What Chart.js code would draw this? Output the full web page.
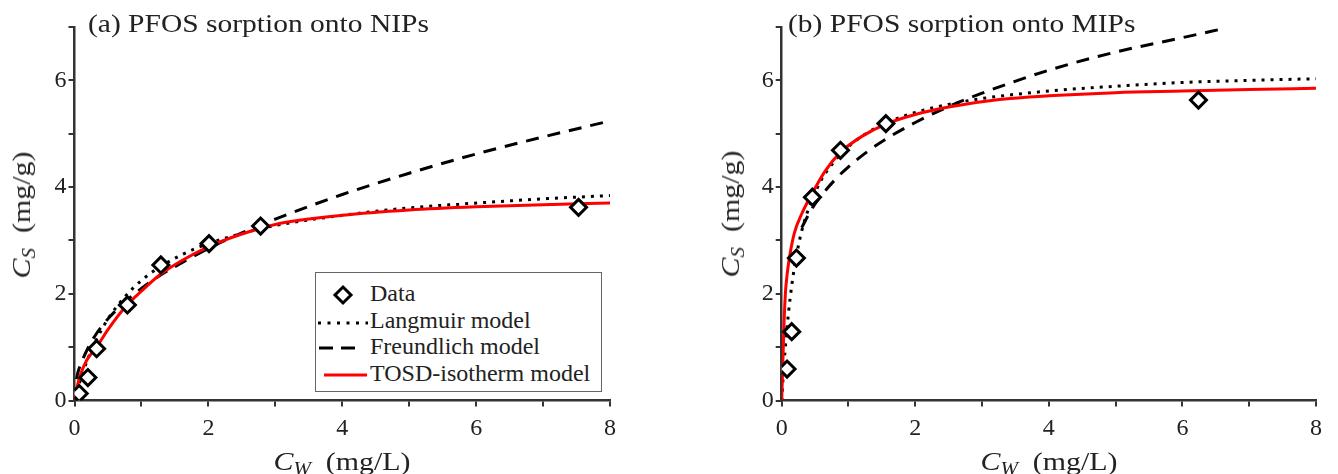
<!DOCTYPE html>
<html>
<head>
<meta charset="utf-8">
<script src="https://cdn.jsdelivr.net/npm/chart.js@4.4.1/dist/chart.umd.min.js"></script>
<style>
  body { margin: 0; width: 1338px; height: 474px; background: #fff; position: relative; overflow: hidden;
         font-family: "Liberation Serif", serif; color: #222; }
  canvas { position: absolute; top: 0; }
  .txt { position: absolute; white-space: nowrap; }
  .title { font-size: 25px; line-height: 25px; top: 11px; transform: scaleX(1.18); transform-origin: 0 0; }
  .xlab { font-size: 26px; line-height: 26px; top: 449px; width: 400px; text-align: center;
          transform: scaleX(1.15); transform-origin: 50% 0; }
  .ylab { font-size: 26px; line-height: 26px; width: 300px; text-align: center;
          transform: rotate(-90deg) scaleX(1.15); transform-origin: 50% 50%; }
  sub { font-size: 70%; vertical-align: -0.3em; line-height: 0; }
  #legend { position: absolute; left: 315px; top: 272px; width: 285px; height: 118px;
            border: 1.5px solid #666; background: #fff; }
  #legend svg { position: absolute; left: 0; top: 0; }
  .lg { position: absolute; left: 54px; font-size: 24px; line-height: 24px; white-space: nowrap; }
</style>
</head>
<body>
<canvas id="chartA" width="640" height="474" style="left:0px"></canvas>
<canvas id="chartB" width="638" height="474" style="left:700px"></canvas>

<div class="txt title" style="left:88px">(a) PFOS sorption onto NIPs</div>
<div class="txt title" style="left:788px">(b) PFOS sorption onto MIPs</div>

<div class="txt xlab" style="left:142px"><i>C</i><sub><i>W</i></sub>&nbsp; (mg/L)</div>
<div class="txt xlab" style="left:849px"><i>C</i><sub><i>W</i></sub>&nbsp; (mg/L)</div>
<div class="txt ylab" style="left:-128px; top:202px"><i>C</i><sub><i>S</i></sub>&nbsp; (mg/g)</div>
<div class="txt ylab" style="left:581px; top:201px"><i>C</i><sub><i>S</i></sub>&nbsp; (mg/g)</div>

<div id="legend">
  <svg width="285" height="118">
    <polygon points="27,14 35,22 27,30 19,22" fill="#fff" stroke="#000" stroke-width="3"/>
    <line x1="2" y1="50" x2="52" y2="50" stroke="#000" stroke-width="3" stroke-dasharray="3 6.5"/>
    <line x1="3" y1="75" x2="39" y2="75" stroke="#000" stroke-width="3" stroke-dasharray="14 8"/>
    <line x1="8" y1="102" x2="51" y2="102" stroke="#ff0000" stroke-width="3"/>
  </svg>
  <div class="lg" style="top:8px">Data</div>
  <div class="lg" style="top:34.5px">Langmuir model</div>
  <div class="lg" style="top:61px">Freundlich model</div>
  <div class="lg" style="top:87.5px">TOSD-isotherm model</div>
</div>

<script>
// (a) NIPs - measured points
const cwA = [0.07, 0.2, 0.33, 0.79, 1.29, 2.01, 2.78, 7.53];
const csA = [0.13, 0.43, 0.97, 1.79, 2.54, 2.94, 3.27, 3.62];
// (a) model curves
const langAx = [0, 0.05, 0.1, 0.2, 0.3, 0.5, 0.75, 1, 1.3, 1.6, 2, 2.5, 3, 4, 5, 6, 7, 8];
const langAy = [0, 0.23, 0.43, 0.78, 1.07, 1.53, 1.94, 2.25, 2.52, 2.73, 2.94, 3.13, 3.28, 3.47, 3.61, 3.70, 3.78, 3.84];
const freuAx = [0.03, 0.05, 0.1, 0.2, 0.3, 0.5, 0.75, 1, 1.3, 1.6, 2, 2.5, 3, 4, 5, 6, 7, 8];
const freuAy = [0.4, 0.52, 0.7, 0.98, 1.2, 1.53, 1.84, 2.10, 2.36, 2.58, 2.85, 3.14, 3.40, 3.86, 4.26, 4.62, 4.94, 5.24];
const tosdAx = [0, 0.03, 0.08, 0.18, 0.33, 0.5, 0.79, 1, 1.29, 1.6, 2, 2.5, 3, 4, 5, 6, 7, 8];
const tosdAy = [0, 0.2, 0.45, 0.75, 1.0, 1.33, 1.8, 2.05, 2.37, 2.62, 2.88, 3.12, 3.3, 3.47, 3.57, 3.63, 3.67, 3.70];

// (b) MIPs - measured points
const cwB = [0.08, 0.15, 0.22, 0.46, 0.88, 1.56, 6.24];
const csB = [0.59, 1.29, 2.67, 3.81, 4.69, 5.19, 5.63];
// (b) model curves
const langBx = [0, 0.025, 0.05, 0.1, 0.15, 0.2, 0.3, 0.45, 0.6, 0.8, 1, 1.3, 1.6, 2, 2.5, 3, 4, 5, 6, 7, 8];
const langBy = [0, 0.50, 0.93, 1.62, 2.15, 2.57, 3.18, 3.75, 4.15, 4.50, 4.76, 5.03, 5.22, 5.40, 5.55, 5.66, 5.80, 5.89, 5.96, 6.00, 6.03];
const freuBx = [0.3, 0.45, 0.6, 0.8, 1, 1.3, 1.6, 2, 2.5, 3, 4, 5, 6, 6.65];
const freuBy = [3.24, 3.59, 3.85, 4.14, 4.38, 4.68, 4.93, 5.21, 5.51, 5.76, 6.19, 6.53, 6.80, 6.98];
const tosdBx = [0, 0.01, 0.02, 0.035, 0.055, 0.08, 0.115, 0.19, 0.3, 0.46, 0.65, 0.88, 1.2, 1.56, 2, 2.5, 3.26, 4, 5, 6, 7, 8];
const tosdBy = [0, 0.4, 0.85, 1.45, 2.0, 2.35, 2.67, 3.14, 3.5, 3.89, 4.3, 4.65, 4.95, 5.18, 5.36, 5.5, 5.64, 5.71, 5.77, 5.80, 5.83, 5.85];

const xTicks = [0, 2, 4, 6, 8];
const yTicks = [0, 2, 4, 6];

function pts(xs, ys) {
  return xs.map((x, i) => ({ x: x, y: ys[i] }));
}

function datasetsFor(cw, cs, lx, ly, fx, fy, tx, ty) {
  return [
    {
      label: "Data",
      data: pts(cw, cs),
      showLine: false,
      pointStyle: "rectRot",
      pointRadius: 8,
      pointBorderWidth: 3,
      pointBorderColor: "#000",
      pointBackgroundColor: "#fff",
      order: 0,
    },
    {
      label: "Langmuir model",
      data: pts(lx, ly),
      showLine: true,
      pointRadius: 0,
      borderColor: "#000",
      borderWidth: 3,
      borderDash: [3, 6],
      cubicInterpolationMode: "monotone",
      order: 3,
    },
    {
      label: "Freundlich model",
      data: pts(fx, fy),
      showLine: true,
      pointRadius: 0,
      borderColor: "#000",
      borderWidth: 3,
      borderDash: [13, 9],
      cubicInterpolationMode: "monotone",
      order: 2,
    },
    {
      label: "TOSD-isotherm model",
      data: pts(tx, ty),
      showLine: true,
      pointRadius: 0,
      borderColor: "#ff0000",
      borderWidth: 3,
      cubicInterpolationMode: "monotone",
      order: 1,
    },
  ];
}

const tickFont = { family: "Liberation Serif", size: 24 };

function makeChart(id, datasets, rightPad, yWidth) {
  return new Chart(document.getElementById(id), {
    type: "scatter",
    data: { datasets: datasets },
    options: {
      responsive: false,
      animation: false,
      layout: { padding: { left: 0, right: rightPad, top: 27, bottom: 0 } },
      plugins: { legend: { display: false }, tooltip: { enabled: false } },
      scales: {
        x: {
          type: "linear",
          min: 0,
          max: 8,
          ticks: {
            stepSize: 1,
            autoSkip: false,
            maxRotation: 0,
            padding: 8,
            color: "#222",
            font: tickFont,
            callback: (v) => (xTicks.includes(v) ? String(v) : ""),
          },
          grid: { drawOnChartArea: false, drawTicks: true, tickLength: 6, color: "#333", lineWidth: 2 },
          border: { display: true, color: "#333", width: 2.5 },
          afterFit: (s) => { s.height = 73.5; },
        },
        y: {
          type: "linear",
          min: 0,
          max: 7,
          ticks: {
            stepSize: 1,
            autoSkip: false,
            padding: 2,
            color: "#222",
            font: tickFont,
            callback: (v) => (yTicks.includes(v) ? String(v) : ""),
          },
          grid: { drawOnChartArea: false, drawTicks: true, tickLength: 6, color: "#333", lineWidth: 2 },
          border: { display: true, color: "#333", width: 2.5 },
          afterFit: (s) => { s.width = yWidth; },
        },
      },
    },
  });
}

makeChart("chartA", datasetsFor(cwA, csA, langAx, langAy, freuAx, freuAy, tosdAx, tosdAy), 30, 74.5);
makeChart("chartB", datasetsFor(cwB, csB, langBx, langBy, freuBx, freuBy, tosdBx, tosdBy), 22, 81.7);
</script>
</body>
</html>
